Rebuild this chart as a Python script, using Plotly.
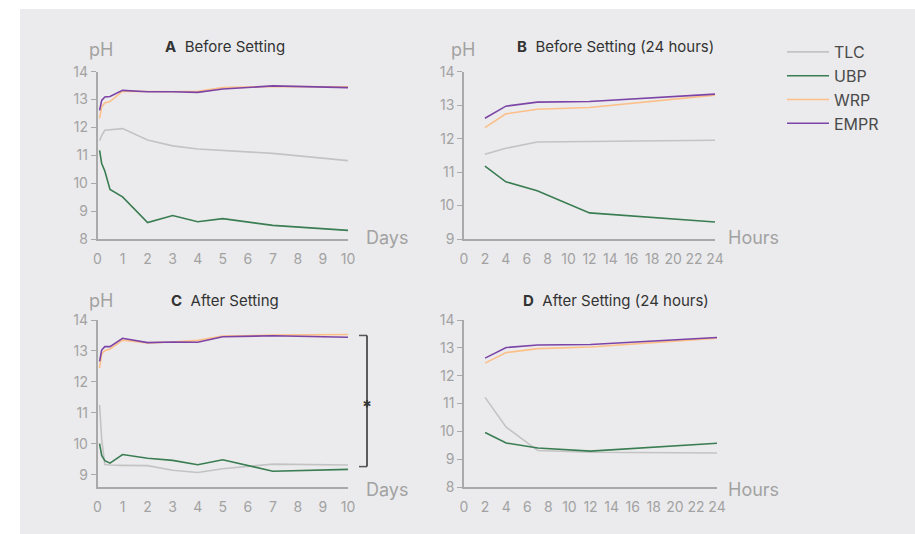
import plotly.graph_objects as go

W, H = 915, 534

# ---- data -------------------------------------------------------------
days = [0.083, 0.167, 0.292, 0.5, 1, 2, 3, 4, 5, 7, 10]
hours = [2, 4, 7, 12, 24]

series_names = ["TLC", "UBP", "WRP", "EMPR"]
series_colors = ["#c3c3c3", "#3a7d52", "#fdbf88", "#7b44a6"]

# A: before setting (days)
tlc_a = [11.53, 11.71, 11.90, 11.92, 11.96, 11.55, 11.34, 11.23, 11.17, 11.07, 10.81]
ubp_a = [11.18, 10.71, 10.44, 9.78, 9.51, 8.59, 8.84, 8.62, 8.73, 8.49, 8.31]
wrp_a = [12.33, 12.74, 12.88, 12.93, 13.30, 13.28, 13.28, 13.30, 13.43, 13.47, 13.46]
empr_a = [12.61, 12.97, 13.09, 13.11, 13.33, 13.28, 13.28, 13.26, 13.38, 13.49, 13.43]

# B: before setting (first 24 hours)
tlc_b = [11.53, 11.71, 11.90, 11.92, 11.95]
ubp_b = [11.18, 10.71, 10.44, 9.78, 9.51]
wrp_b = [12.33, 12.74, 12.88, 12.93, 13.30]
empr_b = [12.61, 12.97, 13.09, 13.11, 13.33]

# C: after setting (days)
tlc_c = [11.25, 10.15, 9.33, 9.31, 9.30, 9.29, 9.14, 9.07, 9.19, 9.34, 9.31]
ubp_c = [10.00, 9.62, 9.45, 9.37, 9.65, 9.53, 9.46, 9.32, 9.48, 9.11, 9.17]
wrp_c = [12.44, 12.90, 13.01, 13.06, 13.35, 13.26, 13.29, 13.34, 13.48, 13.51, 13.53]
empr_c = [12.66, 13.03, 13.14, 13.14, 13.41, 13.27, 13.29, 13.28, 13.46, 13.49, 13.44]

# D: after setting (first 24 hours)
tlc_d = [11.22, 10.15, 9.31, 9.25, 9.22]
ubp_d = [9.96, 9.58, 9.40, 9.29, 9.57]
wrp_d = [12.45, 12.83, 12.97, 13.03, 13.35]
empr_d = [12.63, 13.01, 13.10, 13.12, 13.37]

# significance bracket on panel C (pH span)
bracket_top, bracket_bottom = 13.50, 9.26

day_ticks = list(range(0, 11))
hour_ticks = list(range(0, 25, 2))

# ---- layout helpers ----------------------------------------------------
def px_x(x0, x1):
    return [x0 / W, x1 / W]


def px_y(y_top, y_bottom):
    return [1 - y_bottom / H, 1 - y_top / H]


AXIS_COLOR = "#a9a9a9"
TICK_FONT = dict(family="Inter", size=14, color="#a2a2a2")
FONT = "Inter"

panels = [
    # key, x values, series, x domain, y domain, x range, y range, x ticks, y ticks
    ("1", days, [tlc_a, ubp_a, wrp_a, empr_a], px_x(97.5, 348), px_y(71.7, 239),
     [0, 10], [8, 14], day_ticks, list(range(8, 15))),
    ("2", hours, [tlc_b, ubp_b, wrp_b, empr_b], px_x(464, 715), px_y(71.7, 239),
     [0, 24], [9, 14], hour_ticks, list(range(9, 15))),
    ("3", days, [tlc_c, ubp_c, wrp_c, empr_c], px_x(97.5, 348), px_y(320, 487),
     [0, 10], [8.6, 14], day_ticks, list(range(9, 15))),
    ("4", hours, [tlc_d, ubp_d, wrp_d, empr_d], px_x(464, 717), px_y(320, 487),
     [0, 24], [8, 14], hour_ticks, list(range(8, 15))),
]

fig = go.Figure()
layout = {}

for key, xs, ys_list, xdom, ydom, xr, yr, xt, yt in panels:
    xa = "x" if key == "1" else "x" + key
    ya = "y" if key == "1" else "y" + key
    for name, color, ys in zip(series_names, series_colors, ys_list):
        fig.add_trace(go.Scatter(
            x=xs, y=ys, mode="lines", name=name,
            line=dict(color=color, width=1.6),
            xaxis=xa, yaxis=ya,
            legendgroup=name, showlegend=(key == "1"),
            hoverinfo="x+y+name",
        ))
    layout["xaxis" if key == "1" else "xaxis" + key] = dict(
        domain=xdom, range=xr, anchor=ya, tickvals=xt,
        showgrid=False, zeroline=False, showline=True,
        linecolor=AXIS_COLOR, linewidth=1.5, ticks="",
        ticklabelstandoff=6, tickfont=TICK_FONT, fixedrange=True,
        automargin=False,
    )
    layout["yaxis" if key == "1" else "yaxis" + key] = dict(
        domain=ydom, range=yr, anchor=xa, tickvals=yt,
        showgrid=False, zeroline=False, showline=True,
        linecolor=AXIS_COLOR, linewidth=1.5, ticks="outside",
        ticklen=5, tickwidth=1.2, tickcolor=AXIS_COLOR,
        tickfont=TICK_FONT, fixedrange=True, automargin=False,
    )

fig.update_layout(**layout)

annotations = []

# panel titles
titles = [
    ("A", "Before Setting", 225, 47),
    ("B", "Before Setting (24 hours)", 615, 47),
    ("C", "After Setting", 225, 300.5),
    ("D", "After Setting (24 hours)", 615.5, 300.5),
]
for letter, text, cx, cy in titles:
    annotations.append(dict(
        x=cx / W, y=1 - cy / H, xref="paper", yref="paper",
        text=f"<b>{letter}</b>\u00a0\u00a0{text}", showarrow=False,
        xanchor="center", yanchor="middle",
        font=dict(family=FONT, size=15, color="#333333"),
    ))

# "pH" axis captions
for cx, cy in [(100.5, 49), (462.5, 49), (100.5, 300.5)]:
    annotations.append(dict(
        x=cx / W, y=1 - cy / H, xref="paper", yref="paper", text="pH",
        showarrow=False, xanchor="center", yanchor="middle",
        font=dict(family=FONT, size=18, color="#a2a2a2"),
    ))

# x-axis unit captions
for text, lx, cy in [("Days", 364, 237), ("Hours", 726, 237),
                     ("Days", 364, 489), ("Hours", 726, 489)]:
    annotations.append(dict(
        x=lx / W, y=1 - cy / H, xref="paper", yref="paper", text=text,
        showarrow=False, xanchor="left", yanchor="middle",
        font=dict(family=FONT, size=18, color="#a2a2a2"),
    ))

# significance marker beside panel C
bx0, bx1 = 359 / W, 367 / W
annotations.append(dict(
    x=bx1, y=(bracket_top + bracket_bottom) / 2, xref="paper", yref="y3",
    text="<b>*</b>", showarrow=False, xanchor="center", yanchor="middle",
    font=dict(family=FONT, size=18, color="#333333"), yshift=-5,
))

shapes = [
    # gray card behind the figure
    dict(type="rect", xref="paper", yref="paper", x0=20 / W, x1=1, y0=0, y1=1 - 9 / H,
         fillcolor="#ebebed", line=dict(width=0), layer="below"),
    # bracket
    dict(type="line", xref="paper", yref="y3", x0=bx0, x1=bx1, y0=bracket_top, y1=bracket_top,
         line=dict(color="#555555", width=1.5)),
    dict(type="line", xref="paper", yref="y3", x0=bx0, x1=bx1, y0=bracket_bottom, y1=bracket_bottom,
         line=dict(color="#555555", width=1.5)),
    dict(type="line", xref="paper", yref="y3", x0=bx1, x1=bx1, y0=bracket_bottom, y1=bracket_top,
         line=dict(color="#2b2b2b", width=1.5)),
]

fig.update_layout(
    width=W, height=H,
    margin=dict(l=0, r=0, t=0, b=0, autoexpand=False),
    paper_bgcolor="#ffffff",
    plot_bgcolor="rgba(0,0,0,0)",
    font=dict(family=FONT),
    annotations=annotations,
    shapes=shapes,
    showlegend=True,
    legend=dict(
        x=782 / W, y=1 - 35 / H, xanchor="left", yanchor="top",
        bgcolor="rgba(0,0,0,0)", traceorder="grouped", tracegroupgap=0,
        font=dict(family=FONT, size=16, color="#4a4a4a"),
        itemwidth=42,
    ),
)

fig.write_html(
    "out.html",
    post_script="document.body.style.margin='0';document.body.style.overflow='hidden';",
)
